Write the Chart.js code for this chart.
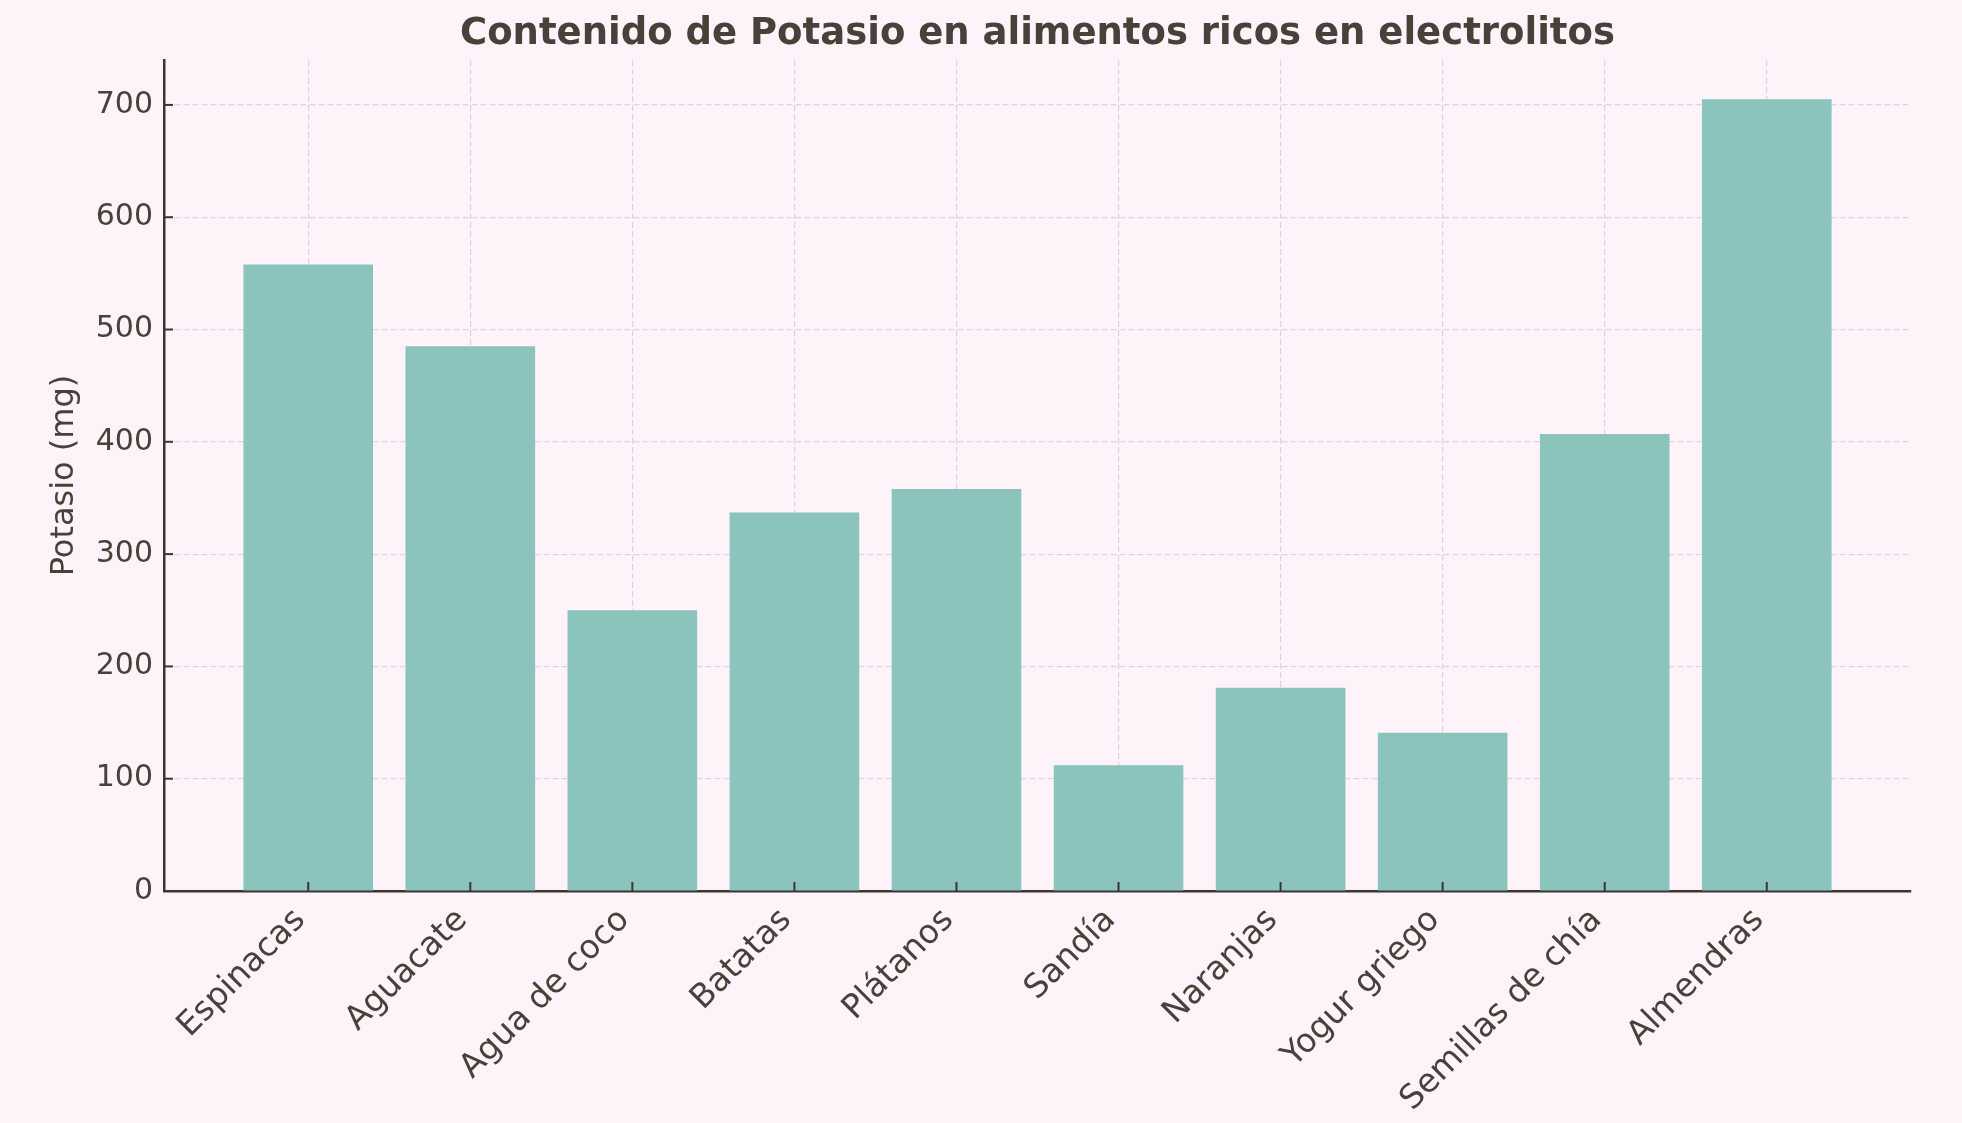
<!DOCTYPE html>
<html>
<head>
<meta charset="utf-8">
<script src="https://cdn.jsdelivr.net/npm/chart.js@4.4.1/dist/chart.umd.min.js"></script>
<style>
html, body { margin: 0; padding: 0; background: #fff3fa; }
</style>
</head>
<body>
<canvas id="chart" width="1962" height="1123"></canvas>
<script>
const categories = ['Espinacas', 'Aguacate', 'Agua de coco', 'Batatas', 'Plátanos', 'Sandía', 'Naranjas', 'Yogur griego', 'Semillas de chía', 'Almendras'];
const potassium = [558, 485, 250, 337, 358, 112, 181, 141, 407, 705];
const yTicks = [0, 100, 200, 300, 400, 500, 600, 700];

const ink = '#4a403a';
const font = "'DejaVu Sans', sans-serif";

// title centred over the plot area, plus inward tick marks like matplotlib
const extras = {
  id: 'extras',
  afterDraw(chart) {
    const { ctx, chartArea, scales } = chart;
    ctx.save();
    ctx.strokeStyle = '#3d3530';
    ctx.lineWidth = 2;
    scales.x.ticks.forEach(t => {
      const px = scales.x.getPixelForValue(t.value);
      ctx.beginPath();
      ctx.moveTo(px, chartArea.bottom);
      ctx.lineTo(px, chartArea.bottom - 9);
      ctx.stroke();
    });
    scales.y.ticks.forEach(t => {
      const py = scales.y.getPixelForValue(t.value);
      ctx.beginPath();
      ctx.moveTo(chartArea.left, py);
      ctx.lineTo(chartArea.left + 9, py);
      ctx.stroke();
    });
    ctx.fillStyle = ink;
    ctx.font = 'bold 37px ' + font;
    ctx.textAlign = 'center';
    ctx.textBaseline = 'middle';
    ctx.fillText('Contenido de Potasio en alimentos ricos en electrolitos', (chartArea.left + chartArea.right) / 2, 34);
    ctx.restore();
  }
};

new Chart(document.getElementById('chart'), {
  type: 'bar',
  data: {
    datasets: [{
      label: 'Potasio (mg)',
      data: potassium.map((v, i) => ({ x: i, y: v })),
      backgroundColor: '#8ac4bc',
      borderWidth: 0,
      barPercentage: 0.8,
      categoryPercentage: 1
    }]
  },
  options: {
    responsive: false,
    animation: false,
    devicePixelRatio: 1,
    layout: { padding: { top: 60, right: 51, left: 0, bottom: 0 } },
    plugins: {
      legend: { display: false },
      tooltip: { enabled: false }
    },
    scales: {
      x: {
        type: 'linear',
        min: -0.89,
        max: 9.89,
        offset: false,
        z: 1,
        afterBuildTicks: s => { s.ticks = categories.map((c, i) => ({ value: i })); },
        afterFit: s => { s.height = 232; },
        grid: { offset: false, color: '#e1d1da', lineWidth: 1.2, drawTicks: false },
        border: { display: true, color: '#3d3530', width: 2.5, dash: [6, 3] },
        ticks: {
          autoSkip: false,
          maxRotation: 45,
          minRotation: 45,
          padding: 10,
          labelOffset: -8,
          color: ink,
          font: { family: font, size: 33 },
          callback: v => categories[v]
        }
      },
      y: {
        min: 0,
        max: 740,
        z: 1,
        afterBuildTicks: s => { s.ticks = yTicks.map(v => ({ value: v })); },
        afterFit: s => { s.width = 164; },
        grid: { color: '#e1d1da', lineWidth: 1.2, drawTicks: false },
        border: { display: true, color: '#3d3530', width: 2.5, dash: [6, 3] },
        ticks: {
          padding: 11,
          color: ink,
          font: { family: font, size: 30 }
        },
        title: {
          display: true,
          text: 'Potasio (mg)',
          color: ink,
          font: { family: font, size: 32 },
          padding: { top: 45, bottom: 0 }
        }
      }
    }
  },
  plugins: [extras]
});
</script>
</body>
</html>
